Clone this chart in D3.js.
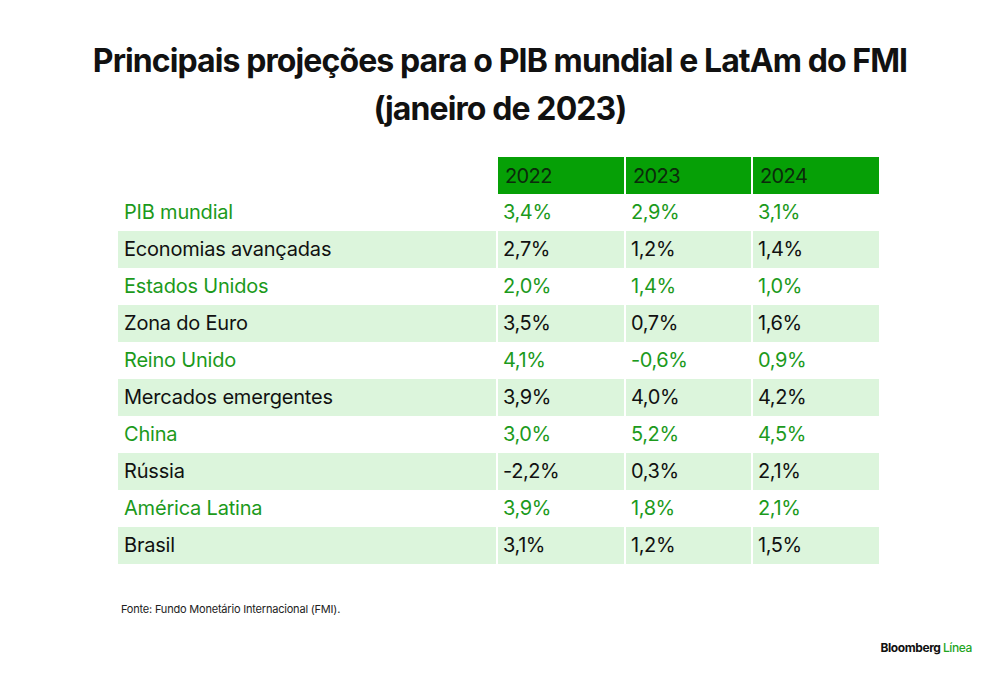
<!DOCTYPE html>
<html><head><meta charset="utf-8">
<script src="https://cdn.jsdelivr.net/npm/d3@7"></script>
<style>body{margin:0;background:#fff}</style>
</head><body>
<script>
var years = ["2022", "2023", "2024"];
var regions = ["PIB mundial", "Economias avançadas", "Estados Unidos", "Zona do Euro", "Reino Unido",
  "Mercados emergentes", "China", "Rússia", "América Latina", "Brasil"];
var v2022 = ["3,4%", "2,7%", "2,0%", "3,5%", "4,1%", "3,9%", "3,0%", "-2,2%", "3,9%", "3,1%"];
var v2023 = ["2,9%", "1,2%", "1,4%", "0,7%", "-0,6%", "4,0%", "5,2%", "0,3%", "1,8%", "1,2%"];
var v2024 = ["3,1%", "1,4%", "1,0%", "1,6%", "0,9%", "4,2%", "4,5%", "2,1%", "2,1%", "1,5%"];
var values = [v2022, v2023, v2024];

var svg = d3.select("body").append("svg").attr("width", 1000).attr("height", 676)
  .style("font-family", "Inter, 'Noto Sans', sans-serif");

// title
svg.selectAll("text.title").data(["Principais projeções para o PIB mundial e LatAm do FMI", "(janeiro de 2023)"])
  .enter().append("text")
  .attr("x", 500).attr("y", function(d, i) { return 72 + i * 48 })
  .attr("text-anchor", "middle").attr("font-size", 32).attr("font-weight", 700)
  .attr("letter-spacing", -0.9).attr("fill", "#111").text(function(d) { return d });

var x = d3.scaleOrdinal().domain(["label"].concat(years)).range([118, 497, 625, 752]);
var colW = 127;
var y = d3.scaleBand().domain(d3.range(regions.length)).range([194, 564]);

// header
svg.selectAll("rect.head").data(years).enter().append("rect")
  .attr("x", function(d) { return x(d) }).attr("y", 157).attr("width", colW).attr("height", 37)
  .attr("fill", "#06a006");
svg.selectAll("text.head").data(years).enter().append("text")
  .attr("x", function(d) { return x(d) + 8 }).attr("y", 183)
  .attr("font-size", 20).attr("letter-spacing", -0.6).attr("fill", "#0b2a0b").text(function(d) { return d });

// row backgrounds
svg.selectAll("rect.row").data(regions).enter().append("rect")
  .attr("x", 118).attr("y", function(d, i) { return y(i) }).attr("width", 879 - 118).attr("height", y.bandwidth())
  .attr("fill", function(d, i) { return i % 2 ? "#dcf5dc" : "#fff" });

// column separators
svg.selectAll("line.sep").data([497, 625, 752]).enter().append("line")
  .attr("x1", function(d) { return d }).attr("x2", function(d) { return d })
  .attr("y1", 157).attr("y2", 564).attr("stroke", "#fff").attr("stroke-width", 2);

function col(i) { return i % 2 ? "#111" : "#1c9a1c" }

svg.selectAll("text.lab").data(regions).enter().append("text")
  .attr("x", 124).attr("y", function(d, i) { return y(i) + 25 })
  .attr("font-size", 20).attr("letter-spacing", -0.2).attr("fill", function(d, i) { return col(i) })
  .text(function(d) { return d });

years.forEach(function(yr, k) {
  svg.selectAll("text.v" + yr).data(values[k]).enter().append("text")
    .attr("x", x(yr) + 6).attr("y", function(d, i) { return y(i) + 25 })
    .attr("font-size", 20).attr("letter-spacing", -0.4).attr("fill", function(d, i) { return col(i) })
    .text(function(d) { return d });
});

svg.append("text").attr("x", 121).attr("y", 613).attr("font-size", 11).attr("letter-spacing", -0.2)
  .attr("fill", "#222").text("Fonte: Fundo Monetário Internacional (FMI).");
var b = svg.append("text").attr("x", 972).attr("y", 652).attr("text-anchor", "end")
  .attr("font-size", 12).attr("font-weight", 700).attr("letter-spacing", -0.4);
b.append("tspan").attr("fill", "#111").text("Bloomberg ");
b.append("tspan").attr("fill", "#1fa51f").attr("font-weight", 500).text("Línea");
</script>
</body></html>
